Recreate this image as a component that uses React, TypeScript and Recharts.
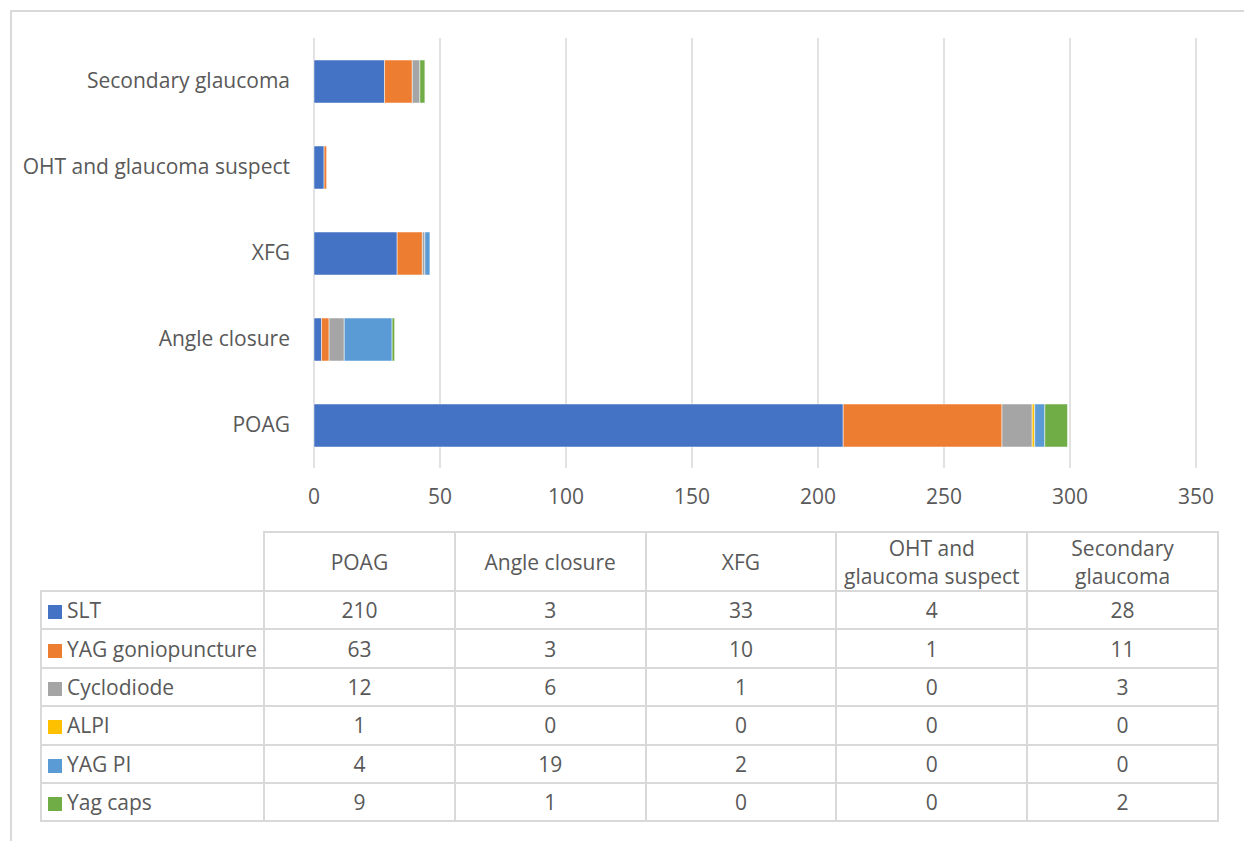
import React from "react";
import { Bar, BarChart, CartesianGrid, XAxis, YAxis } from "recharts";

const categories = ["POAG", "Angle closure", "XFG", "OHT and glaucoma suspect", "Secondary glaucoma"];
const headerLabels = ["POAG", "Angle closure", "XFG", "OHT and\nglaucoma suspect", "Secondary\nglaucoma"];

const seriesNames = ["SLT", "YAG goniopuncture", "Cyclodiode", "ALPI", "YAG PI", "Yag caps"];
const seriesColors = ["#4472C4", "#ED7D31", "#A5A5A5", "#FFC000", "#5B9BD5", "#70AD47"];

const slt = [210, 3, 33, 4, 28];
const yagGonio = [63, 3, 10, 1, 11];
const cyclodiode = [12, 6, 1, 0, 3];
const alpi = [1, 0, 0, 0, 0];
const yagPi = [4, 19, 2, 0, 0];
const yagCaps = [9, 1, 0, 0, 2];

const xTicks = [0, 50, 100, 150, 200, 250, 300, 350];

const seriesValues = [slt, yagGonio, cyclodiode, alpi, yagPi, yagCaps];

const data = categories.map((name, i) => {
  const row: Record<string, string | number> = { name };
  seriesNames.forEach((s, j) => {
    row[s] = seriesValues[j][i];
  });
  return row;
});

const FONT = "'Open Sans', sans-serif";
const TEXT = "#595959";
const LINE = "#d9d9d9";

export default function App() {
  const cell: React.CSSProperties = {
    border: `2px solid ${LINE}`,
    textAlign: "center",
    padding: 0,
    fontSize: 21,
    color: TEXT,
  };

  return (
    <div
      style={{
        position: "absolute",
        left: 0,
        top: 0,
        width: 1244,
        height: 841,
        overflow: "hidden",
        background: "#fff",
        fontFamily: FONT,
      }}
    >
      <div
        style={{
          position: "absolute",
          left: 10,
          top: 10,
          width: 1300,
          height: 900,
          borderTop: `2px solid ${LINE}`,
          borderLeft: `2px solid ${LINE}`,
        }}
      />
      <div style={{ position: "absolute", left: 0, top: 0 }}>
        <BarChart
          width={1244}
          height={520}
          data={data}
          layout="vertical"
          barSize={43}
          margin={{ top: 38, right: 48, left: 0, bottom: 12 }}
        >
          <CartesianGrid horizontal={false} stroke={LINE} strokeWidth={1.5} />
          <XAxis
            type="number"
            domain={[0, 350]}
            ticks={xTicks}
            axisLine={false}
            tickLine={false}
            tickSize={0}
            tickMargin={21}
            height={40}
            tick={{ fontSize: 21, fill: TEXT, fontFamily: FONT }}
          />
          <YAxis
            type="category"
            dataKey="name"
            reversed
            width={314}
            axisLine={false}
            tickLine={false}
            tickSize={0}
            tickMargin={24}
            tick={{ fontSize: 21, fill: TEXT, fontFamily: FONT }}
          />
          {seriesNames.map((s, j) => (
            <Bar
              key={s}
              dataKey={s}
              stackId="a"
              fill={seriesColors[j]}
              stroke="#fff"
              strokeWidth={0.5}
              isAnimationActive={false}
            />
          ))}
        </BarChart>
      </div>

      <table
        style={{
          position: "absolute",
          left: 40,
          top: 531,
          width: 1177,
          borderCollapse: "collapse",
          tableLayout: "fixed",
          fontFamily: FONT,
        }}
      >
        <colgroup>
          <col style={{ width: 223 }} />
          {categories.map((c) => (
            <col key={c} style={{ width: 190.8 }} />
          ))}
        </colgroup>
        <tbody>
          <tr style={{ height: 59 }}>
            <td style={{ ...cell, borderTop: "none", borderLeft: "none" }} />
            {headerLabels.map((h) => (
              <td key={h} style={{ ...cell, whiteSpace: "pre-line", lineHeight: "28px" }}>
                {h}
              </td>
            ))}
          </tr>
          {seriesNames.map((s, j) => (
            <tr key={s} style={{ height: 38.4 }}>
              <td style={{ ...cell, textAlign: "left", whiteSpace: "nowrap" }}>
                <span
                  style={{
                    display: "inline-block",
                    width: 14,
                    height: 14,
                    background: seriesColors[j],
                    marginLeft: 6,
                    marginRight: 5,
                    verticalAlign: "-1px",
                  }}
                />
                {s}
              </td>
              {seriesValues[j].map((v, i) => (
                <td key={i} style={cell}>
                  {v}
                </td>
              ))}
            </tr>
          ))}
        </tbody>
      </table>
    </div>
  );
}
